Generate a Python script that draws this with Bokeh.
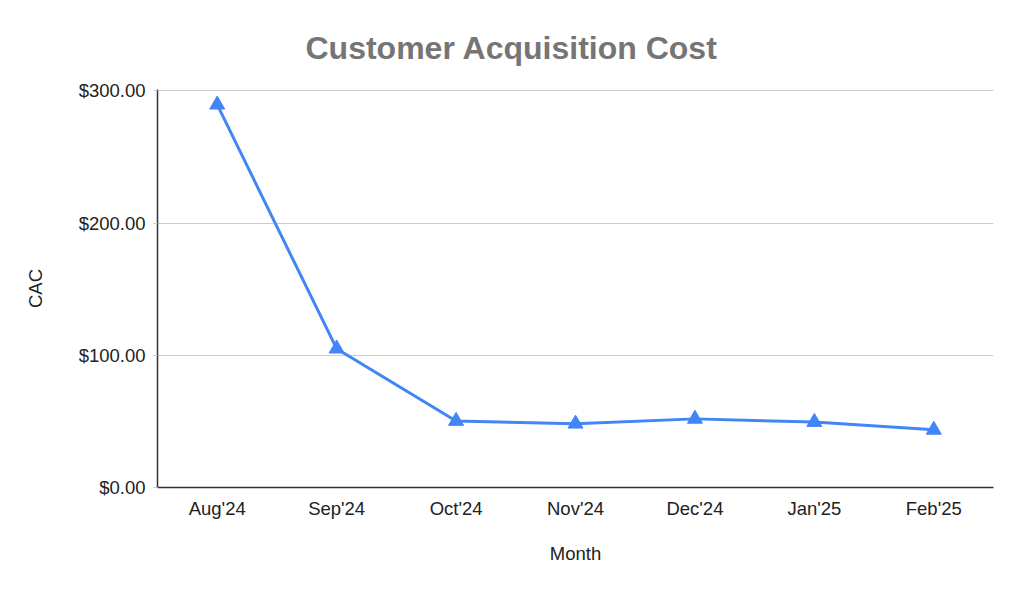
from bokeh.plotting import figure
from bokeh.models import ColumnDataSource, FactorRange, Range1d, NumeralTickFormatter, FixedTicker
from bokeh.embed import file_html
from bokeh.resources import INLINE

months = ["Aug'24", "Sep'24", "Oct'24", "Nov'24", "Dec'24", "Jan'25", "Feb'25"]
cac = [289.5, 105.0, 50.3, 48.2, 51.9, 49.5, 43.6]
y_ticks = [0, 100, 200, 300]

FONT = "Liberation Sans"
src = ColumnDataSource(dict(month=months, cac=cac))

p = figure(width=1024, height=595, x_range=FactorRange(*months, range_padding=0),
           y_range=Range1d(0, 301), output_backend="svg", toolbar_location=None,
           title="Customer Acquisition Cost",
           min_border_left=157, min_border_right=31, min_border_top=89, min_border_bottom=108)

p.title.align = "left"
p.title.offset = 148
p.title.standoff = 47
p.title.text_font = FONT
p.title.text_font_size = "32px"
p.title.text_font_style = "bold"
p.title.text_color = "#757575"

p.outline_line_color = None
p.background_fill_color = "white"
p.border_fill_color = "white"

p.line("month", "cac", source=src, line_color="#4285F4", line_width=3)
p.scatter("month", "cac", source=src, marker="triangle", size=15,
          fill_color="#4285F4", line_color="#4285F4")

p.xgrid.grid_line_color = None
p.ygrid.grid_line_color = "#cccccc"
p.ygrid.grid_line_width = 1

p.yaxis.ticker = FixedTicker(ticks=y_ticks)
p.yaxis.formatter = NumeralTickFormatter(format="$0,0.00")
p.yaxis.minor_tick_line_color = None
p.yaxis.major_tick_out = 4
p.yaxis.major_tick_in = 0
p.yaxis.major_tick_line_color = "#cccccc"
p.yaxis.major_label_standoff = 8
p.yaxis.axis_label = "CAC"
p.yaxis.axis_label_standoff = 30

p.xaxis.major_tick_line_color = None
p.xaxis.major_tick_out = 0
p.xaxis.major_tick_in = 0
p.xaxis.major_label_standoff = 10
p.xaxis.axis_label = "Month"
p.xaxis.axis_label_standoff = 21

for ax in (p.xaxis[0], p.yaxis[0]):
    ax.axis_line_color = "#333333"
    ax.axis_line_width = 1.5
    ax.major_label_text_font = FONT
    ax.major_label_text_font_size = "18.5px"
    ax.major_label_text_color = "#222222"
    ax.axis_label_text_font = FONT
    ax.axis_label_text_font_size = "18.5px"
    ax.axis_label_text_font_style = "normal"
    ax.axis_label_text_color = "#222222"

open("out.html", "w").write(file_html(p, INLINE))
